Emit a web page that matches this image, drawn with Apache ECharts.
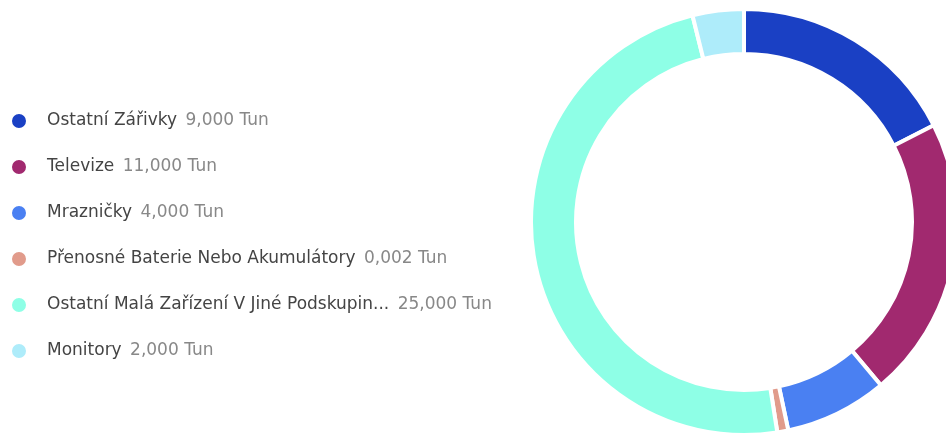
<!DOCTYPE html>
<html>
<head>
<meta charset="utf-8">
<script src="https://cdn.jsdelivr.net/npm/echarts@6/dist/echarts.min.js"></script>
<style>
  html, body { margin: 0; padding: 0; background: #fff; }
  #container { width: 946px; height: 435px; }
</style>
</head>
<body>
<div id="container"></div>
<script>
var dom = document.getElementById('container');
var myChart = echarts.init(dom, null, {
  renderer: 'canvas',
  useDirtyRect: false
});

// data
var names = [
  'Ostatní Zářivky',
  'Televize',
  'Mrazničky',
  'Přenosné Baterie Nebo Akumulátory',
  'Ostatní Malá Zařízení V Jiné Podskupin...',
  'Monitory'
];
var values = [9, 11, 4, 0.002, 25, 2];
var unit = 'Tun';
var colors = ['#1a40c4', '#a1296f', '#4a80f2', '#e19b8b', '#8effe6', '#aeecfa'];

var valueByName = {};
var seriesData = [];
for (var i = 0; i < names.length; i++) {
  valueByName[names[i]] = values[i];
  seriesData.push({ name: names[i], value: values[i] });
}

function fmt(v) {
  return v.toFixed(3).replace('.', ',');
}

var option = {
  color: colors,
  legend: {
    orient: 'vertical',
    left: 5,
    top: 106,
    icon: 'circle',
    itemWidth: 16,
    itemHeight: 16,
    itemGap: 26,
    textStyle: {
      fontFamily: 'DejaVu Sans',
      fontSize: 17,
      lineHeight: 20,
      rich: {
        n: { fontFamily: 'DejaVu Sans', fontSize: 17, color: '#444', padding: [0, 0, 0, 15] },
        v: { fontFamily: 'DejaVu Sans', fontSize: 17, color: '#888', padding: [0, 0, 0, 3] }
      }
    },
    formatter: function (name) {
      return '{n|' + name + '} {v|' + fmt(valueByName[name]) + ' ' + unit + '}';
    }
  },
  series: [
    {
      type: 'pie',
      center: [744, 222],
      radius: [168, 213],
      startAngle: 90,
      clockwise: true,
      minAngle: 3,
      avoidLabelOverlap: false,
      label: { show: false },
      labelLine: { show: false },
      itemStyle: {
        borderColor: '#fff',
        borderWidth: 4
      },
      data: seriesData
    }
  ]
};

if (option && typeof option === 'object') {
  myChart.setOption(option);
}

window.addEventListener('resize', myChart.resize);
</script>
</body>
</html>
